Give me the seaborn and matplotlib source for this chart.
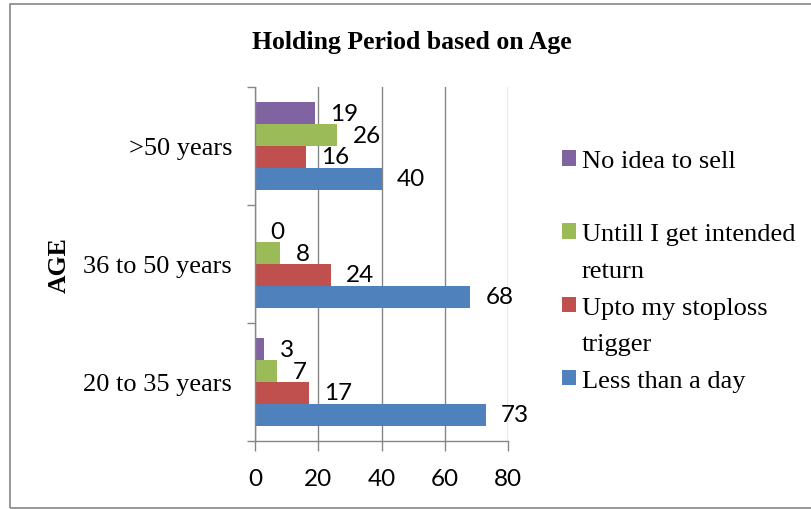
import pandas as pd
import matplotlib
matplotlib.use("Agg")
import matplotlib.pyplot as plt
from matplotlib.patches import Patch, Rectangle
import seaborn as sns

# Chart data
age_groups = ["20 to 35 years", "36 to 50 years", ">50 years"]
less_than_day = [73, 68, 40]
upto_stoploss = [17, 24, 16]
until_return = [7, 8, 26]
no_idea = [3, 0, 19]

series_names = ["No idea to sell", "Untill I get intended return",
                "Upto my stoploss trigger", "Less than a day"]
series_colors = ["#8064A2", "#9BBB59", "#C0504D", "#4F81BD"]

df = pd.DataFrame({
    "age": age_groups,
    "No idea to sell": no_idea,
    "Untill I get intended return": until_return,
    "Upto my stoploss trigger": upto_stoploss,
    "Less than a day": less_than_day,
}).melt(id_vars="age", var_name="holding", value_name="count")

plt.rcParams["font.family"] = ["Liberation Serif", "DejaVu Serif"]
gray = "#868686"
num_font = "Lato"

fig = plt.figure(figsize=(8.11, 5.10), dpi=100)
ax = fig.add_axes([255 / 811, 1 - 442 / 510, 253 / 811, 354 / 510])

sns.barplot(data=df, x="count", y="age", hue="holding",
            order=age_groups[::-1], hue_order=series_names,
            palette=series_colors, saturation=1, width=0.74, orient="h",
            errorbar=None, linewidth=0, ax=ax)

# value labels to the right of each bar
for cont in ax.containers:
    ax.bar_label(cont, fmt="%g", padding=11, fontsize=17.5,
                 family=num_font)

ax.set_xlim(0, 80)
ax.set_ylim(2.5, -0.5)
ax.set_xticks([0, 20, 40, 60, 80])
ax.set_yticks([-0.5, 0.5, 1.5, 2.5], minor=True)
ax.tick_params(axis="y", which="major", length=0, pad=16.5, labelsize=19)
ax.tick_params(axis="y", which="minor", length=6, color=gray, width=1)
ax.tick_params(axis="x", length=7, color=gray, width=1, pad=12.5)
for lbl in ax.get_xticklabels():
    lbl.set_family(num_font)
    lbl.set_fontsize(17.5)

ax.xaxis.grid(True, color=gray, linewidth=1)
ax.set_axisbelow(True)
for side in ["top", "right"]:
    ax.spines[side].set_visible(False)
for side in ["left", "bottom"]:
    ax.spines[side].set_color(gray)
    ax.spines[side].set_linewidth(1)

ax.set_xlabel("")
ax.set_ylabel("AGE", fontsize=18.5, fontweight="bold")
ax.yaxis.set_label_coords((71 - 255) / 253, 0.5)

# legend, one row per text line like the original
handles, labels = ax.get_legend_handles_labels()
ax.legend_.remove()
blank = Patch(facecolor="none", edgecolor="none")
lh = dict(zip(labels, handles))
leg_handles = [lh["No idea to sell"], blank,
               lh["Untill I get intended return"], blank,
               lh["Upto my stoploss trigger"], blank,
               lh["Less than a day"]]
leg_labels = ["No idea to sell", " ",
              "Untill I get intended", "return",
              "Upto my stoploss", "trigger",
              "Less than a day"]
fig.legend(leg_handles, leg_labels, loc="upper left",
           bbox_to_anchor=(561.7 / 811, 1 - 151 / 510),
           frameon=False, fontsize=19, handlelength=0.53, handleheight=0.53,
           handletextpad=0.23, labelspacing=0.55, borderpad=0,
           borderaxespad=0)

fig.suptitle("Holding Period based on Age", x=411.5 / 811, y=1 - 49 / 510,
             va="baseline", fontsize=18.5, fontweight="bold")

# outer chart border
fig.patches.append(Rectangle((9.5 / 811, 1.5 / 510), 1.2, 1 - 6 / 510,
                             transform=fig.transFigure, fill=False,
                             edgecolor=gray, linewidth=1.2))

fig.savefig("out.png", dpi=100)
